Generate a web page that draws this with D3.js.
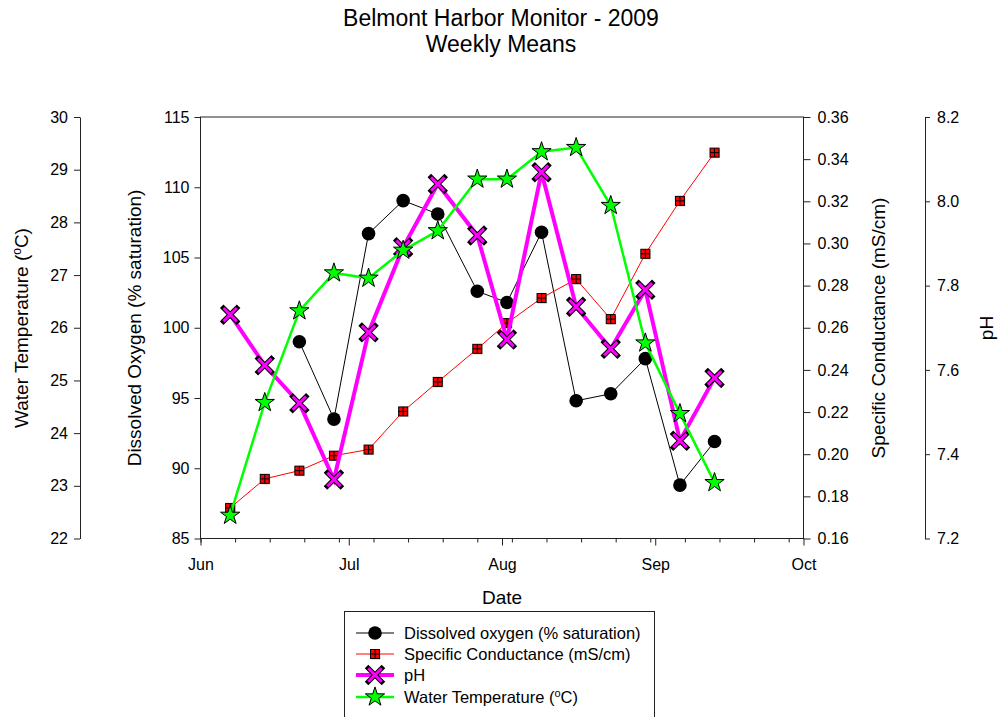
<!DOCTYPE html>
<html>
<head>
<meta charset="utf-8">
<script src="https://cdn.jsdelivr.net/npm/d3@7"></script>
<style>
  html, body { margin: 0; padding: 0; background: #fff; }
  svg { display: block; font-family: Arial, "Liberation Sans", sans-serif; }
</style>
</head>
<body>
<svg id="chart" width="998" height="717"></svg>
<script>
// Weekly sampling dates
const dates = ["2009-06-07","2009-06-14","2009-06-21","2009-06-28","2009-07-05","2009-07-12","2009-07-19",
               "2009-07-27","2009-08-02","2009-08-09","2009-08-16","2009-08-23","2009-08-30","2009-09-06","2009-09-13"];
// Dissolved oxygen (% saturation); first two weeks not sampled
const dissolvedOxygen = [null, null, 99.0, 93.5, 106.7, 109.05, 108.1, 102.6, 101.8, 106.8, 94.8, 95.3, 97.8, 88.8, 91.9];
// Specific conductance (mS/cm)
const conductance = [0.1745, 0.1883, 0.1922, 0.1993, 0.2022, 0.2203, 0.2343, 0.250, 0.2622, 0.2741, 0.2831, 0.2641, 0.2951, 0.3202, 0.3431];
// pH
const pH = [7.731, 7.611, 7.521, 7.340, 7.689, 7.891, 8.041, 7.919, 7.672, 8.069, 7.750, 7.650, 7.790, 7.432, 7.581];
// Water temperature (°C)
const waterTemp = [22.44, 24.58, 26.32, 27.04, 26.94, 27.47, 27.84, 28.82, 28.82, 29.34, 29.42, 28.32, 25.71, 24.37, 23.06];

// Axis tick values
const doTicks = [85, 90, 95, 100, 105, 110, 115];
const tempTicks = [22, 23, 24, 25, 26, 27, 28, 29, 30];
const scTicks = [0.16, 0.18, 0.20, 0.22, 0.24, 0.26, 0.28, 0.30, 0.32, 0.34, 0.36];
const phTicks = [7.2, 7.4, 7.6, 7.8, 8.0, 8.2];
const monthTicks = ["2009-06-01","2009-07-01","2009-08-01","2009-09-01","2009-10-01"];

const parse = d3.timeParse("%Y-%m-%d");
const svg = d3.select("#chart");

const L = 200.5, R = 803.5, T = 117, B = 538.5;
const ink = "#222";

const x = d3.scaleTime().domain([parse("2009-06-01"), parse("2009-10-01")]).range([L, R]);
const yDO = d3.scaleLinear().domain([85, 115]).range([B, T]);
const yT = d3.scaleLinear().domain([22, 30]).range([B, T]);
const ySC = d3.scaleLinear().domain([0.16, 0.36]).range([B, T]);
const yPH = d3.scaleLinear().domain([7.2, 8.2]).range([B, T]);

// Title
svg.append("text").attr("x", 501).attr("y", 26).attr("text-anchor", "middle")
  .attr("font-size", 23).text("Belmont Harbor Monitor - 2009");
svg.append("text").attr("x", 501).attr("y", 52).attr("text-anchor", "middle")
  .attr("font-size", 23).text("Weekly Means");

function styleAxis(g) {
  g.selectAll("path, line").attr("stroke", ink).attr("stroke-width", 1);
  g.selectAll("text").attr("font-size", 16).attr("fill", "#000").attr("font-family", "Arial, 'Liberation Sans', sans-serif");
}

// Frame
svg.append("rect").attr("x", L).attr("y", T).attr("width", R - L).attr("height", B - T)
  .attr("fill", "none").attr("stroke", ink).attr("stroke-width", 1);

// Bottom date axis: weekly minor ticks and monthly major ticks
const minorTicks = d3.range(0, 18).map(i => d3.timeDay.offset(parse("2009-06-01"), i * 7));
svg.append("g").attr("transform", `translate(0,${B})`)
  .call(d3.axisBottom(x).tickValues(minorTicks).tickSize(4).tickFormat(""))
  .call(g => g.select(".domain").remove())
  .call(styleAxis);
svg.append("g").attr("transform", `translate(0,${B})`)
  .call(d3.axisBottom(x).tickValues(monthTicks.map(parse)).tickSize(7).tickPadding(13)
    .tickFormat(d3.timeFormat("%b")))
  .call(g => g.select(".domain").remove())
  .call(styleAxis);

// Dissolved oxygen axis (left, on frame)
svg.append("g").attr("transform", `translate(${L},0)`)
  .call(d3.axisLeft(yDO).tickValues(doTicks).tickSize(6).tickPadding(5).tickSizeOuter(0))
  .call(g => g.select(".domain").remove())
  .call(styleAxis);

// Water temperature axis (far left)
const tempX = 80;
svg.append("g").attr("transform", `translate(${tempX},0)`)
  .call(d3.axisLeft(yT).tickValues(tempTicks).tickSize(6).tickPadding(6).tickSizeOuter(0))
  .call(styleAxis);

// Specific conductance axis (right, on frame)
svg.append("g").attr("transform", `translate(${R},0)`)
  .call(d3.axisRight(ySC).tickValues(scTicks).tickSize(7).tickPadding(7).tickSizeOuter(0)
    .tickFormat(d3.format(".2f")))
  .call(g => g.select(".domain").remove())
  .call(styleAxis);

// pH axis (far right)
const phX = 925;
svg.append("g").attr("transform", `translate(${phX},0)`)
  .call(d3.axisRight(yPH).tickValues(phTicks).tickSize(5).tickPadding(7).tickSizeOuter(0)
    .tickFormat(d3.format(".1f")))
  .call(styleAxis);

// Axis titles
function vTitle(cx, cy, parts) {
  const t = svg.append("text").attr("transform", `translate(${cx},${cy}) rotate(-90)`)
    .attr("text-anchor", "middle").attr("dy", "0.35em").attr("font-size", 19);
  parts.forEach(p => {
    const s = t.append("tspan").text(p.t);
    if (p.sup) s.attr("baseline-shift", "super").attr("font-size", 12);
  });
}
vTitle(21, 328, [{t: "Water Temperature ("}, {t: "o", sup: true}, {t: "C)"}]);
vTitle(134, 328, [{t: "Dissolved Oxygen (% saturation)"}]);
vTitle(878, 328, [{t: "Specific Conductance (mS/cm)"}]);
vTitle(986, 328, [{t: "pH"}]);
svg.append("text").attr("x", 502).attr("y", 604).attr("text-anchor", "middle")
  .attr("font-size", 19).text("Date");

// Series rows
const rows = dates.map((d, i) => ({
  date: parse(d), DO: dissolvedOxygen[i], SC: conductance[i], PH: pH[i], TEMP: waterTemp[i]
}));

// Marker drawers
function drawCircle(g, cx, cy) {
  g.append("circle").attr("cx", cx).attr("cy", cy).attr("r", 6.8).attr("fill", "#000");
}
function drawSquare(g, cx, cy) {
  const s = 9;
  g.append("rect").attr("x", cx - s / 2 + 1).attr("y", cy - s / 2 + 1).attr("width", s).attr("height", s)
    .attr("fill", "#999").attr("opacity", 0.6);
  g.append("rect").attr("x", cx - s / 2).attr("y", cy - s / 2).attr("width", s).attr("height", s)
    .attr("fill", "#ff0000").attr("stroke", "#000").attr("stroke-width", 1);
  g.append("path").attr("d", `M${cx - s / 2},${cy}H${cx + s / 2}M${cx},${cy - s / 2}V${cy + s / 2}`)
    .attr("stroke", "#000").attr("stroke-width", 1);
}
function drawX(g, cx, cy) {
  const h = 6.7;
  const d = `M${cx - h},${cy - h}L${cx + h},${cy + h}M${cx - h},${cy + h}L${cx + h},${cy - h}`;
  g.append("path").attr("d", d).attr("stroke", "#000").attr("stroke-width", 5).attr("stroke-linecap", "square");
  g.append("path").attr("d", d).attr("stroke", "#ff00ff").attr("stroke-width", 3).attr("stroke-linecap", "butt");
}
const starPath = d3.symbol().type(d3.symbolStar).size(115);
function drawStar(g, cx, cy) {
  g.append("path").attr("d", starPath()).attr("transform", `translate(${cx},${cy})`)
    .attr("fill", "#00ff00").attr("stroke", "#000").attr("stroke-width", 1);
}

const series = [
  {key: "DO", y: yDO, color: "#000", width: 1, mark: drawCircle},
  {key: "SC", y: ySC, color: "#ff0000", width: 1, mark: drawSquare},
  {key: "PH", y: yPH, color: "#ff00ff", width: 4, mark: drawX},
  {key: "TEMP", y: yT, color: "#00ff00", width: 2.5, mark: drawStar}
];

series.forEach(s => {
  const pts = rows.filter(r => r[s.key] != null);
  const line = d3.line().x(r => x(r.date)).y(r => s.y(r[s.key]));
  const g = svg.append("g");
  g.append("path").datum(pts).attr("d", line).attr("fill", "none")
    .attr("stroke", s.color).attr("stroke-width", s.width).attr("stroke-linejoin", "miter");
  pts.forEach(r => s.mark(g, x(r.date), s.y(r[s.key])));
});

// Legend
const legend = svg.append("g");
legend.append("rect").attr("x", 344.5).attr("y", 611.5).attr("width", 310).attr("height", 130)
  .attr("fill", "#fff").attr("stroke", ink).attr("stroke-width", 1);
const legendItems = [
  {y: 633, s: series[0], parts: [{t: "Dissolved oxygen (% saturation)"}]},
  {y: 654, s: series[1], parts: [{t: "Specific Conductance (mS/cm)"}]},
  {y: 675, s: series[2], parts: [{t: "pH"}]},
  {y: 697, s: series[3], parts: [{t: "Water Temperature ("}, {t: "o", sup: true}, {t: "C)"}]}
];
legendItems.forEach(it => {
  legend.append("line").attr("x1", 356).attr("x2", 394).attr("y1", it.y).attr("y2", it.y)
    .attr("stroke", it.s.color).attr("stroke-width", it.s.width);
  it.s.mark(legend, 375, it.y);
  const t = legend.append("text").attr("x", 404).attr("y", it.y).attr("dy", "0.35em").attr("font-size", 16.5);
  it.parts.forEach(p => {
    const sp = t.append("tspan").text(p.t);
    if (p.sup) sp.attr("baseline-shift", "super").attr("font-size", 11);
  });
});
</script>
</body>
</html>
